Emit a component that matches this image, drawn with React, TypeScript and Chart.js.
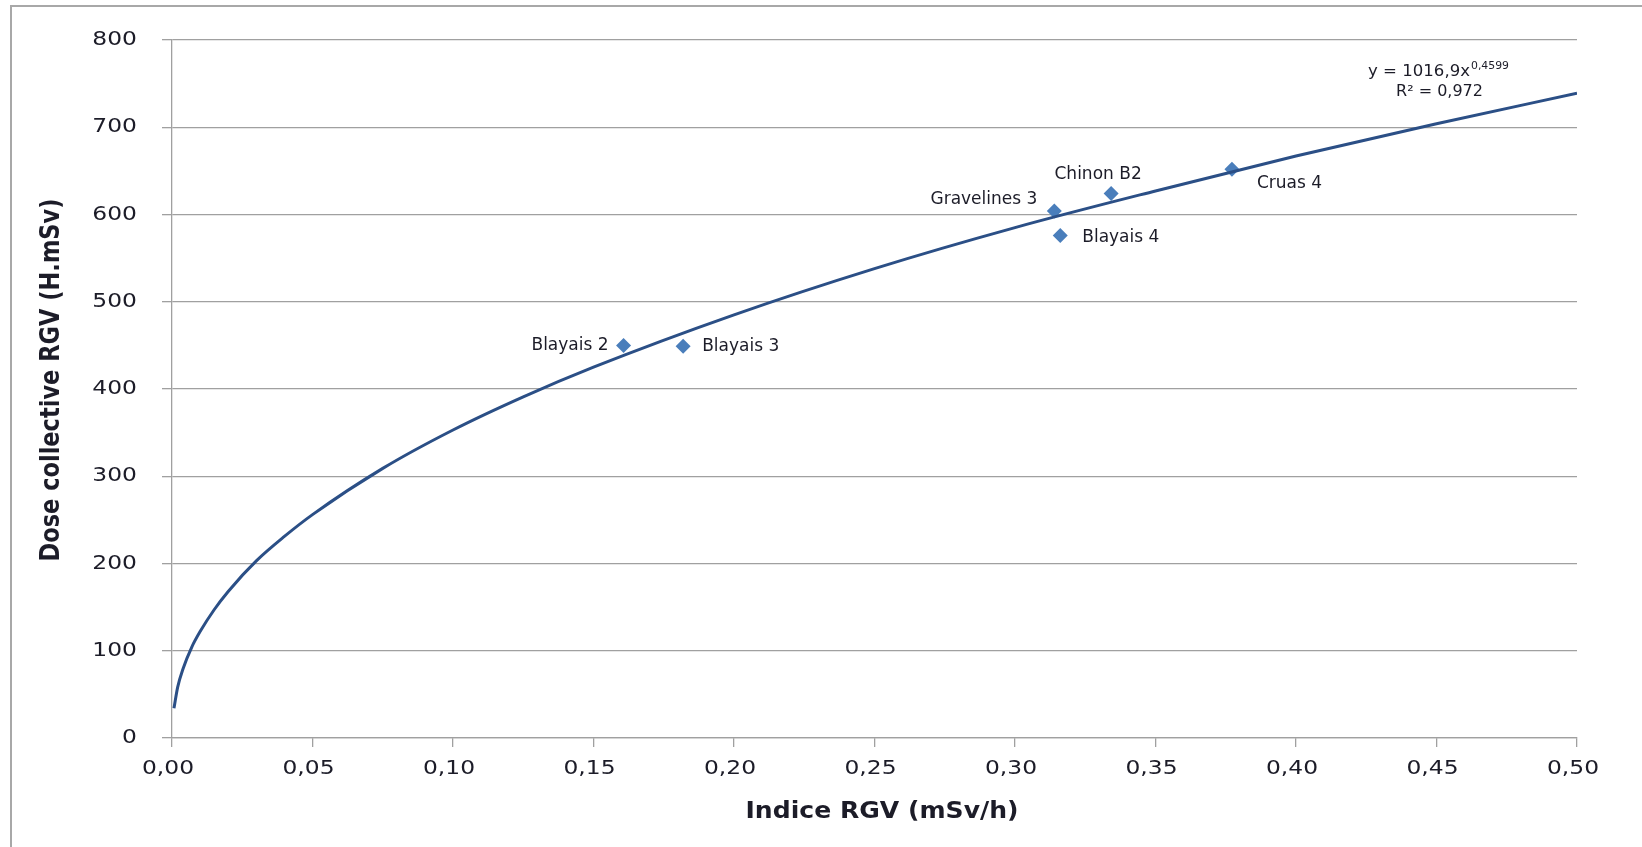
import React, { useEffect, useRef } from "react";
import { Chart, registerables } from "chart.js";

Chart.register(...registerables);

// ---- data ----
const plantNames = ["Blayais 2", "Blayais 3", "Gravelines 3", "Blayais 4", "Chinon B2", "Cruas 4"];
const plantRGV = [0.1607, 0.1819, 0.314, 0.3161, 0.3342, 0.3772];
const plantDose = [450, 449, 604, 576, 624, 652];

const trendRGV = [0.0007, 0.002, 0.004, 0.007, 0.01, 0.015, 0.02, 0.03, 0.04, 0.05, 0.075, 0.1, 0.125, 0.15, 0.2, 0.25, 0.3, 0.35, 0.4, 0.45, 0.5];
const trendDose = [34, 58, 80, 104, 122, 147, 168, 203, 231, 256, 309, 353, 391, 425, 485, 538, 585, 627, 667, 704, 739];

const xTickValues = [0, 0.05, 0.1, 0.15, 0.2, 0.25, 0.3, 0.35, 0.4, 0.45, 0.5];
const xTickLabels = ["0,00", "0,05", "0,10", "0,15", "0,20", "0,25", "0,30", "0,35", "0,40", "0,45", "0,50"];
const yTickValues = [0, 100, 200, 300, 400, 500, 600, 700, 800];
const yTickLabels = ["0", "100", "200", "300", "400", "500", "600", "700", "800"];

const equationMain = "y = 1016,9x";
const equationExp = "0,4599";
const equationR2 = "R² = 0,972";
const xTitle = "Indice RGV (mSv/h)";
const yTitle = "Dose collective RGV (H.mSv)";

// label offsets (style): [dx, dy, align]
const labelPlacement: [number, number, CanvasTextAlign][] = [
  [-15, 0, "right"],
  [19, 0, "left"],
  [-17, -11, "right"],
  [22, 2, "left"],
  [-13, -19, "center"],
  [25, 14, "left"],
];

const TEXT = "#1c1c28";
const GRID = "#a0a0a0";
const FONT = "'DejaVu Sans', Verdana, sans-serif";
const TICK_STRETCH = 1.17;

function fillScaled(ctx: CanvasRenderingContext2D, text: string, x: number, y: number, align: CanvasTextAlign, s: number) {
  ctx.save();
  ctx.translate(x, y);
  ctx.scale(s, 1);
  ctx.textAlign = align;
  ctx.fillText(text, 0, 0);
  ctx.restore();
}

function fillFit(ctx: CanvasRenderingContext2D, text: string, x: number, y: number, align: CanvasTextAlign, width: number) {
  const w = ctx.measureText(text).width;
  fillScaled(ctx, text, x, y, align, width / w);
}

const decorPlugin = {
  id: "decor",
  beforeDraw(chart: any) {
    const ctx = chart.ctx as CanvasRenderingContext2D;
    ctx.save();
    ctx.fillStyle = "#ffffff";
    ctx.fillRect(0, 0, chart.width, chart.height);
    ctx.strokeStyle = "#a8a8a8";
    ctx.lineWidth = 2;
    ctx.strokeRect(11, 6, 3000, 3000);
    ctx.restore();
  },
  afterDraw(chart: any) {
    const ctx = chart.ctx as CanvasRenderingContext2D;
    const xs = chart.scales.x;
    const ys = chart.scales.y;
    ctx.save();
    ctx.fillStyle = TEXT;
    ctx.textBaseline = "middle";

    // tick labels
    ctx.font = `20px ${FONT}`;
    xTickValues.forEach((v, i) => {
      fillScaled(ctx, xTickLabels[i], xs.getPixelForValue(v) - 4, 769, "center", TICK_STRETCH);
    });
    yTickValues.forEach((v, i) => {
      fillScaled(ctx, yTickLabels[i], 137, ys.getPixelForValue(v), "right", TICK_STRETCH);
    });

    // point labels
    ctx.font = `17px ${FONT}`;
    plantNames.forEach((name, i) => {
      const px = xs.getPixelForValue(plantRGV[i]);
      const py = ys.getPixelForValue(plantDose[i]);
      const [dx, dy, al] = labelPlacement[i];
      ctx.textAlign = al;
      ctx.fillText(name, px + dx, py + dy);
    });

    // equation
    ctx.textBaseline = "alphabetic";
    ctx.font = `15px ${FONT}`;
    fillFit(ctx, equationMain, 1368, 76, "left", 102);
    ctx.font = `10px ${FONT}`;
    fillFit(ctx, equationExp, 1471, 69, "left", 38);
    ctx.font = `15px ${FONT}`;
    fillFit(ctx, equationR2, 1396, 96, "left", 87);

    // axis titles
    ctx.textBaseline = "middle";
    ctx.font = `bold 23px ${FONT}`;
    fillFit(ctx, xTitle, 882, 812, "center", 273);

    ctx.save();
    ctx.translate(52, 380);
    ctx.rotate(-Math.PI / 2);
    ctx.font = `bold 27px 'DejaVu Sans Condensed', 'DejaVu Sans', sans-serif`;
    fillFit(ctx, yTitle, 0, 0, "center", 363);
    ctx.restore();

    ctx.restore();
  },
};

export default function App() {
  const ref = useRef<HTMLCanvasElement | null>(null);
  useEffect(() => {
    if (!ref.current) return;
    const chart = new Chart(ref.current, {
      type: "scatter",
      data: {
        datasets: [
          {
            label: "Tendance",
            data: trendRGV.map((x, i) => ({ x, y: trendDose[i] })),
            showLine: true,
            borderColor: "#2b4f86",
            borderWidth: 3,
            pointRadius: 0,
            cubicInterpolationMode: "monotone",
            fill: false,
          },
          {
            label: "Tranches",
            data: plantRGV.map((x, i) => ({ x, y: plantDose[i] })),
            pointStyle: "rectRot",
            pointRadius: 7.5,
            pointHoverRadius: 7.5,
            backgroundColor: "#4a7ebb",
            borderColor: "#4a7ebb",
            borderWidth: 0,
            showLine: false,
          },
        ],
      },
      options: {
        responsive: false,
        animation: false,
        events: [],
        layout: { padding: { top: 40, right: 65, left: 0, bottom: 0 } },
        plugins: { legend: { display: false }, tooltip: { enabled: false }, title: { display: false } },
        scales: {
          x: {
            type: "linear",
            min: 0,
            max: 0.5,
            afterBuildTicks: (s: any) => {
              s.ticks = xTickValues.map((v) => ({ value: v }));
            },
            afterFit: (s: any) => {
              s.height = 109;
            },
            ticks: { display: false, autoSkip: false },
            grid: { drawOnChartArea: false, drawTicks: true, tickLength: 9, color: GRID, lineWidth: 1.3 },
            border: { display: true, color: GRID, width: 1.3 },
          },
          y: {
            type: "linear",
            min: 0,
            max: 800,
            afterBuildTicks: (s: any) => {
              s.ticks = yTickValues.map((v) => ({ value: v }));
            },
            afterFit: (s: any) => {
              s.width = 172;
            },
            ticks: { display: false, autoSkip: false },
            grid: { drawTicks: true, tickLength: 10, color: GRID, lineWidth: 1.3 },
            border: { display: true, color: GRID, width: 1.3 },
          },
        },
      },
      plugins: [decorPlugin],
    });
    return () => chart.destroy();
  }, []);
  return (
    <div style={{ position: "fixed", left: 0, top: 0, width: 1642, height: 847, background: "#fff" }}>
      <canvas ref={ref} width={1642} height={847} style={{ display: "block" }} />
    </div>
  );
}
